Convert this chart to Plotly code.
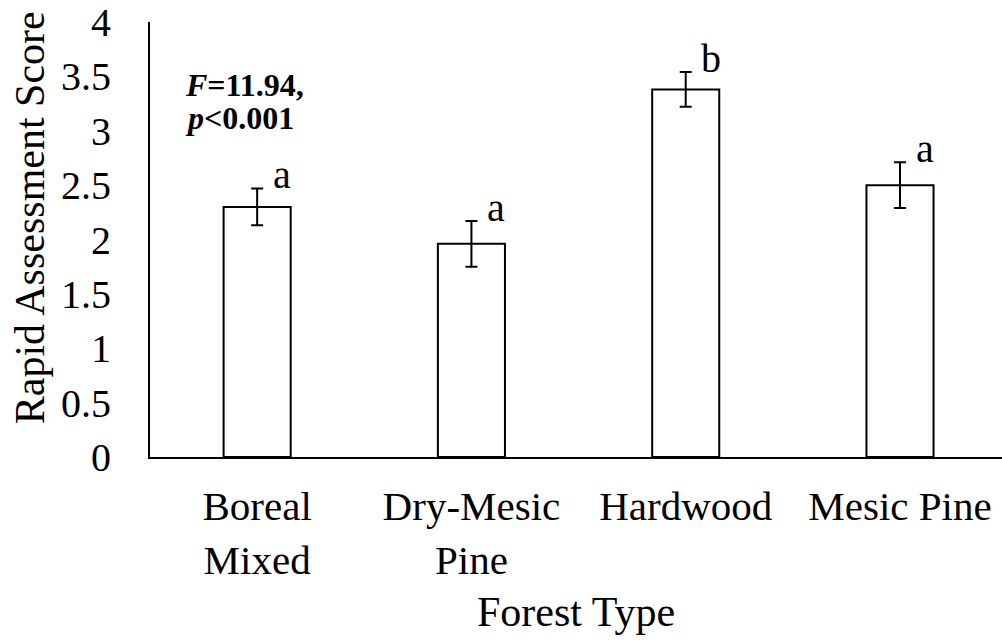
import plotly.graph_objects as go

# Mean rapid assessment score by forest type, with standard errors
forest_types = ["Boreal<br>Mixed", "Dry-Mesic<br>Pine", "Hardwood", "Mesic Pine"]
mean_scores = [2.30, 1.96, 3.38, 2.50]
std_errors = [0.17, 0.21, 0.16, 0.21]
group_letters = ["a", "a", "b", "a"]

y_ticks = [0, 0.5, 1, 1.5, 2, 2.5, 3, 3.5, 4]
y_tick_text = ["0", "0.5", "1", "1.5", "2", "2.5", "3", "3.5", "4"]

serif = "Liberation Serif, Times New Roman, serif"

fig = go.Figure()
fig.add_trace(go.Bar(
    x=forest_types,
    y=mean_scores,
    width=0.313,
    marker=dict(color="white", line=dict(color="black", width=2)),
    error_y=dict(type="data", array=std_errors, visible=True,
                 color="black", thickness=2, width=6),
    showlegend=False,
))

# significance-group letters just above each error bar
for cat, m, e, letter in zip(forest_types, mean_scores, std_errors, group_letters):
    fig.add_annotation(
        x=cat, y=m + e, text=letter, showarrow=False,
        xanchor="center", yanchor="bottom", xshift=25, yshift=-11,
        font=dict(family=serif, size=40, color="black"),
    )

# ANOVA result, one annotation per line
fig.add_annotation(
    xref="paper", yref="paper", x=0.039, y=0.855,
    text="<b><i>F</i>=11.94,</b>",
    showarrow=False, xanchor="left", yanchor="middle",
    font=dict(family=serif, size=32, color="black"),
)
fig.add_annotation(
    xref="paper", yref="paper", x=0.039, y=0.779,
    text="<b><i>p</i><0.001</b>",
    showarrow=False, xanchor="left", yanchor="middle",
    font=dict(family=serif, size=32, color="black"),
)

# axis titles
fig.add_annotation(
    xref="paper", yref="paper", x=-0.1408, y=0.549,
    text="Rapid Assessment Score", textangle=-90, showarrow=False,
    xanchor="center", yanchor="middle",
    font=dict(family=serif, size=42, color="black"),
)
fig.add_annotation(
    xref="paper", yref="paper", x=0.5, y=-0.356,
    text="Forest Type", showarrow=False,
    xanchor="center", yanchor="middle",
    font=dict(family=serif, size=42, color="black"),
)

fig.update_layout(
    width=1002, height=642,
    margin=dict(l=150, r=0, t=22, b=185),
    paper_bgcolor="white", plot_bgcolor="white",
    font=dict(family=serif, size=40, color="black"),
    xaxis=dict(
        range=[-0.5, 3.476], showline=True, linecolor="black", linewidth=2,
        ticks="", showgrid=False, zeroline=False, ticklabelstandoff=12,
        tickfont=dict(family=serif, size=41, color="black"),
    ),
    yaxis=dict(
        range=[0, 4], tickvals=y_ticks, ticktext=y_tick_text,
        showline=True, linecolor="black", linewidth=2,
        ticks="", showgrid=False, zeroline=False, ticklabelstandoff=29,
        tickfont=dict(family=serif, size=40, color="black"),
    ),
)

fig.write_html("out.html")
